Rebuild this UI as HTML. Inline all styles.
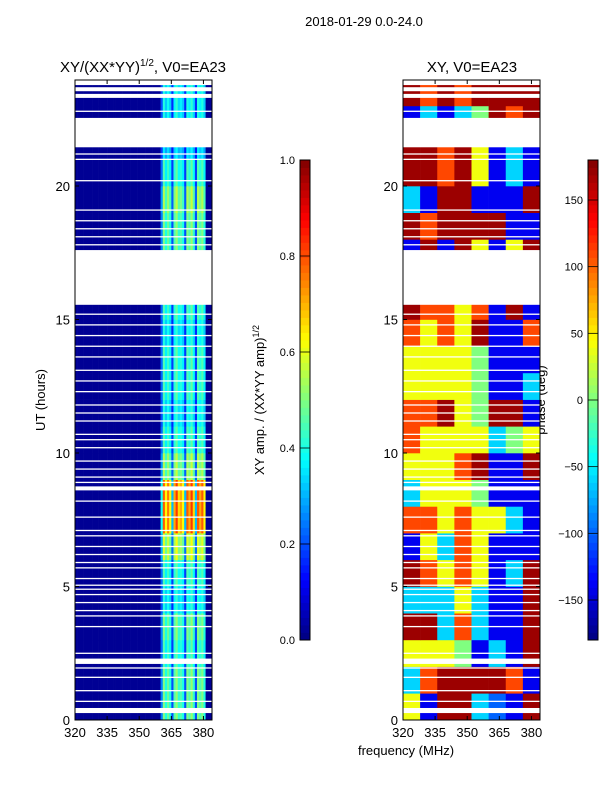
<!DOCTYPE html>
<html><head><meta charset="utf-8"><style>
body{margin:0;background:#fff;}
svg text{font-family:"Liberation Sans",sans-serif;fill:#000;}
</style></head><body>
<svg id="fig" width="600" height="800" viewBox="0 0 600 800" xmlns="http://www.w3.org/2000/svg">
<rect width="600" height="800" fill="#fff"/>
<text x="364" y="26" font-size="13" text-anchor="middle">2018-01-29 0.0-24.0</text>
<text x="143" y="72" font-size="15" text-anchor="middle">XY/(XX*YY)<tspan font-size="10" dy="-6">1/2</tspan><tspan dy="6">, V0=EA23</tspan></text>
<text x="472" y="72" font-size="15" text-anchor="middle">XY, V0=EA23</text>
<text transform="translate(45,400) rotate(-90)" font-size="13" text-anchor="middle">UT (hours)</text>
<text x="406" y="755" font-size="13" text-anchor="middle">frequency (MHz)</text>
<text transform="translate(264,400) rotate(-90)" font-size="13" text-anchor="middle">XY amp. / (XX*YY amp)<tspan font-size="9" dy="-5">1/2</tspan></text>
<text transform="translate(545,400) rotate(-90)" font-size="13" text-anchor="middle">phase (deg)</text>
<g id="left"></g>
<g id="right"></g>
<g id="cb1"></g>
<g id="cb2"></g>
</svg>
<script>
// ---- data ----
const freqStart = 320, freqEnd = 384;
const hourGain = [1,1,0.9,1,0.8,0.9,1.2,1.6,1.6,1.1,0.9,0.8,0.9,0.9,0.8,0.9,1,1,1,1.1,0.9,0.7,0.8,0.8];
const colProfile = [
0.02,0.02,0.02,0.02,0.02,0.02,0.02,0.02,0.02,0.02,0.02,0.02,0.02,0.02,0.02,0.02,0.02,0.02,0.02,0.02,
0.02,0.02,0.02,0.02,0.02,0.02,0.02,0.02,0.02,0.02,0.02,0.02,0.02,0.02,0.02,0.02,0.02,0.02,0.02,0.02,
0.25,0.5,0.4,0.48,0.4,0.2,0.45,0.52,0.42,0.45,0.4,0.2,0.5,0.45,0.52,0.42,0.2,0.5,0.45,0.5,0.4,0.02,0.02,0.02];
const phaseGrid = [
[40,-140,170,170,-60,-100,-140,170],
[-60,110,170,170,170,170,110,-140],
[40,40,40,0,-140,-60,-140,170],
[170,170,-60,110,-60,-140,-140,170],
[-60,-60,-60,40,-60,-140,-140,170],
[170,110,40,110,40,-140,-60,170],
[-140,40,-60,110,40,-140,-140,-140],
[110,110,40,110,40,40,-60,-140],
[-60,40,40,40,0,-140,-140,-140],
[40,40,40,110,170,-140,-140,170],
[110,40,40,40,40,-60,0,40],
[110,110,170,40,0,170,170,-140],
[40,40,40,40,0,-140,-140,-60],
[40,40,40,40,0,-140,-140,-140],
[110,40,110,40,170,-140,-140,110],
[170,110,110,40,110,-140,170,-140],
[170,170,170,170,170,170,170,170],
[-140,170,-140,170,40,-140,40,170],
[170,110,170,170,170,170,-140,-140],
[-60,-140,170,170,-140,-140,-140,170],
[170,170,110,170,40,-140,-60,-140],
[170,170,110,170,40,-140,-60,-140],
[-140,-60,-140,-60,0,170,110,170],
[170,110,170,110,170,170,170,170]];
const flagRanges = [[0.26,0.45],[2.1,2.3],[8.6,8.75],[15.55,17.6],[21.45,22.55],[23.3,23.45],[23.55,23.7],[23.78,23.97]];
const thinFlags = [0.7,1.1,1.6,1.95,2.5,3.5,3.9,4.1,4.4,4.7,4.9,5.05,5.3,5.7,5.9,6.2,6.5,6.9,7.1,7.6,8.2,8.9,9.1,9.4,9.7,10.2,10.5,10.7,11.2,11.5,11.8,12.3,12.7,13.1,13.6,14.0,14.4,14.8,15.2,17.8,18.1,18.4,18.7,19.1,20.2,21.0,21.2,22.8];
const xTicks = [320,335,350,365,380];
const yTicks = [0,5,10,15,20];
const ampTicks = [0.0,0.2,0.4,0.6,0.8,1.0];
const phaseTicks = [-150,-100,-50,0,50,100,150];
// ---- scales ----
const NS='http://www.w3.org/2000/svg';
const panelTop=80, panelBot=720;
const yS = h => 720 - h*26.7;
function xS(x0){ return f => x0 + (f-320)*2.1406; }
function jet(v){
  v=Math.max(0,Math.min(1,v));
  const c=t=>Math.round(255*Math.max(0,Math.min(1,1.5-Math.abs(t))));
  return `rgb(${c(4*v-3)},${c(4*v-2)},${c(4*v-1)})`;
}
function mk(tag,attrs,parent){const e=document.createElementNS(NS,tag);for(const k in attrs)e.setAttribute(k,attrs[k]);parent.appendChild(e);return e;}
function panel(g,x0,valueFn){
  const xs=xS(x0);
  for(let h=0;h<24;h++){
    const yTop=Math.max(panelTop,yS(h+1));
    const nc = valueFn.cols;
    for(let c=0;c<nc;c++){
      const f0=freqStart+c*(freqEnd-freqStart)/nc, f1=freqStart+(c+1)*(freqEnd-freqStart)/nc;
      const r=mk('rect',{x:xs(f0),y:yTop,width:xs(f1)-xs(f0)+0.3,height:yS(h)-yTop+0.3,fill:jet(valueFn(h,c))},g);
      
      
    }
  }
  for(const [a,b] of flagRanges){
    const r=mk('rect',{x:x0,y:yS(b),width:137,height:yS(a)-yS(b),fill:'#fff'},g);
    
    
  }
  for(const t of thinFlags){
    const r=mk('rect',{x:x0,y:yS(t)-0.6,width:137,height:1.3,fill:'#fff'},g);
    
    
  }
  const fr=mk('rect',{x:x0,y:panelTop,width:137,height:640,fill:'none',stroke:'#000','stroke-width':1},g);
  
  
  for(const t of xTicks){
    const X=xs(t);
    mk('line',{x1:X,x2:X,y1:panelBot,y2:panelBot-4,stroke:'#000'},g);
    mk('line',{x1:X,x2:X,y1:panelTop,y2:panelTop+4,stroke:'#000'},g);
    const tx=mk('text',{x:X,y:737,'font-size':13,'text-anchor':'middle'},g);tx.textContent=t;
    
    
  }
  for(const t of yTicks){
    const Y=yS(t);
    mk('line',{x1:x0,x2:x0+4,y1:Y,y2:Y,stroke:'#000'},g);
    mk('line',{x1:x0+137,x2:x0+133,y1:Y,y2:Y,stroke:'#000'},g);
    const tx=mk('text',{x:x0-5,y:Y+5,'font-size':13,'text-anchor':'end'},g);tx.textContent=t;
    
    
  }
}
const ampFn=(h,c)=>Math.min(1,0.02+(colProfile[c]-0.02)*hourGain[h]);ampFn.cols=colProfile.length;
panel(document.getElementById('left'),75,ampFn);
const phFn=(h,c)=>(phaseGrid[h][c]+180)/360;phFn.cols=8;
panel(document.getElementById('right'),403,phFn);
function colorbar(g,x0,ticks,vmin,vmax,fmt){
  const n=64;
  for(let i=0;i<n;i++){
    const r=mk('rect',{x:x0,y:160+480*(n-1-i)/n,width:10,height:480/n+0.4,fill:jet((i+0.5)/n)},g);
    
    
  }
  mk('rect',{x:x0,y:160,width:10,height:480,fill:'none',stroke:'#000'},g);
  for(const t of ticks){
    const Y=640-480*(t-vmin)/(vmax-vmin);
    mk('line',{x1:x0,x2:x0+10,y1:Y,y2:Y,stroke:'#000','stroke-width':0.8},g);
    const tx=mk('text',{x:x0-5,y:Y+4,'font-size':11,'text-anchor':'end'},g);tx.textContent=fmt(t);
    
    
  }
}
colorbar(document.getElementById('cb1'),300,ampTicks,0,1,t=>t.toFixed(1));
colorbar(document.getElementById('cb2'),588,phaseTicks,-180,180,t=>t<0?'\u2212'+(-t):String(t));
</script>
</body></html>
